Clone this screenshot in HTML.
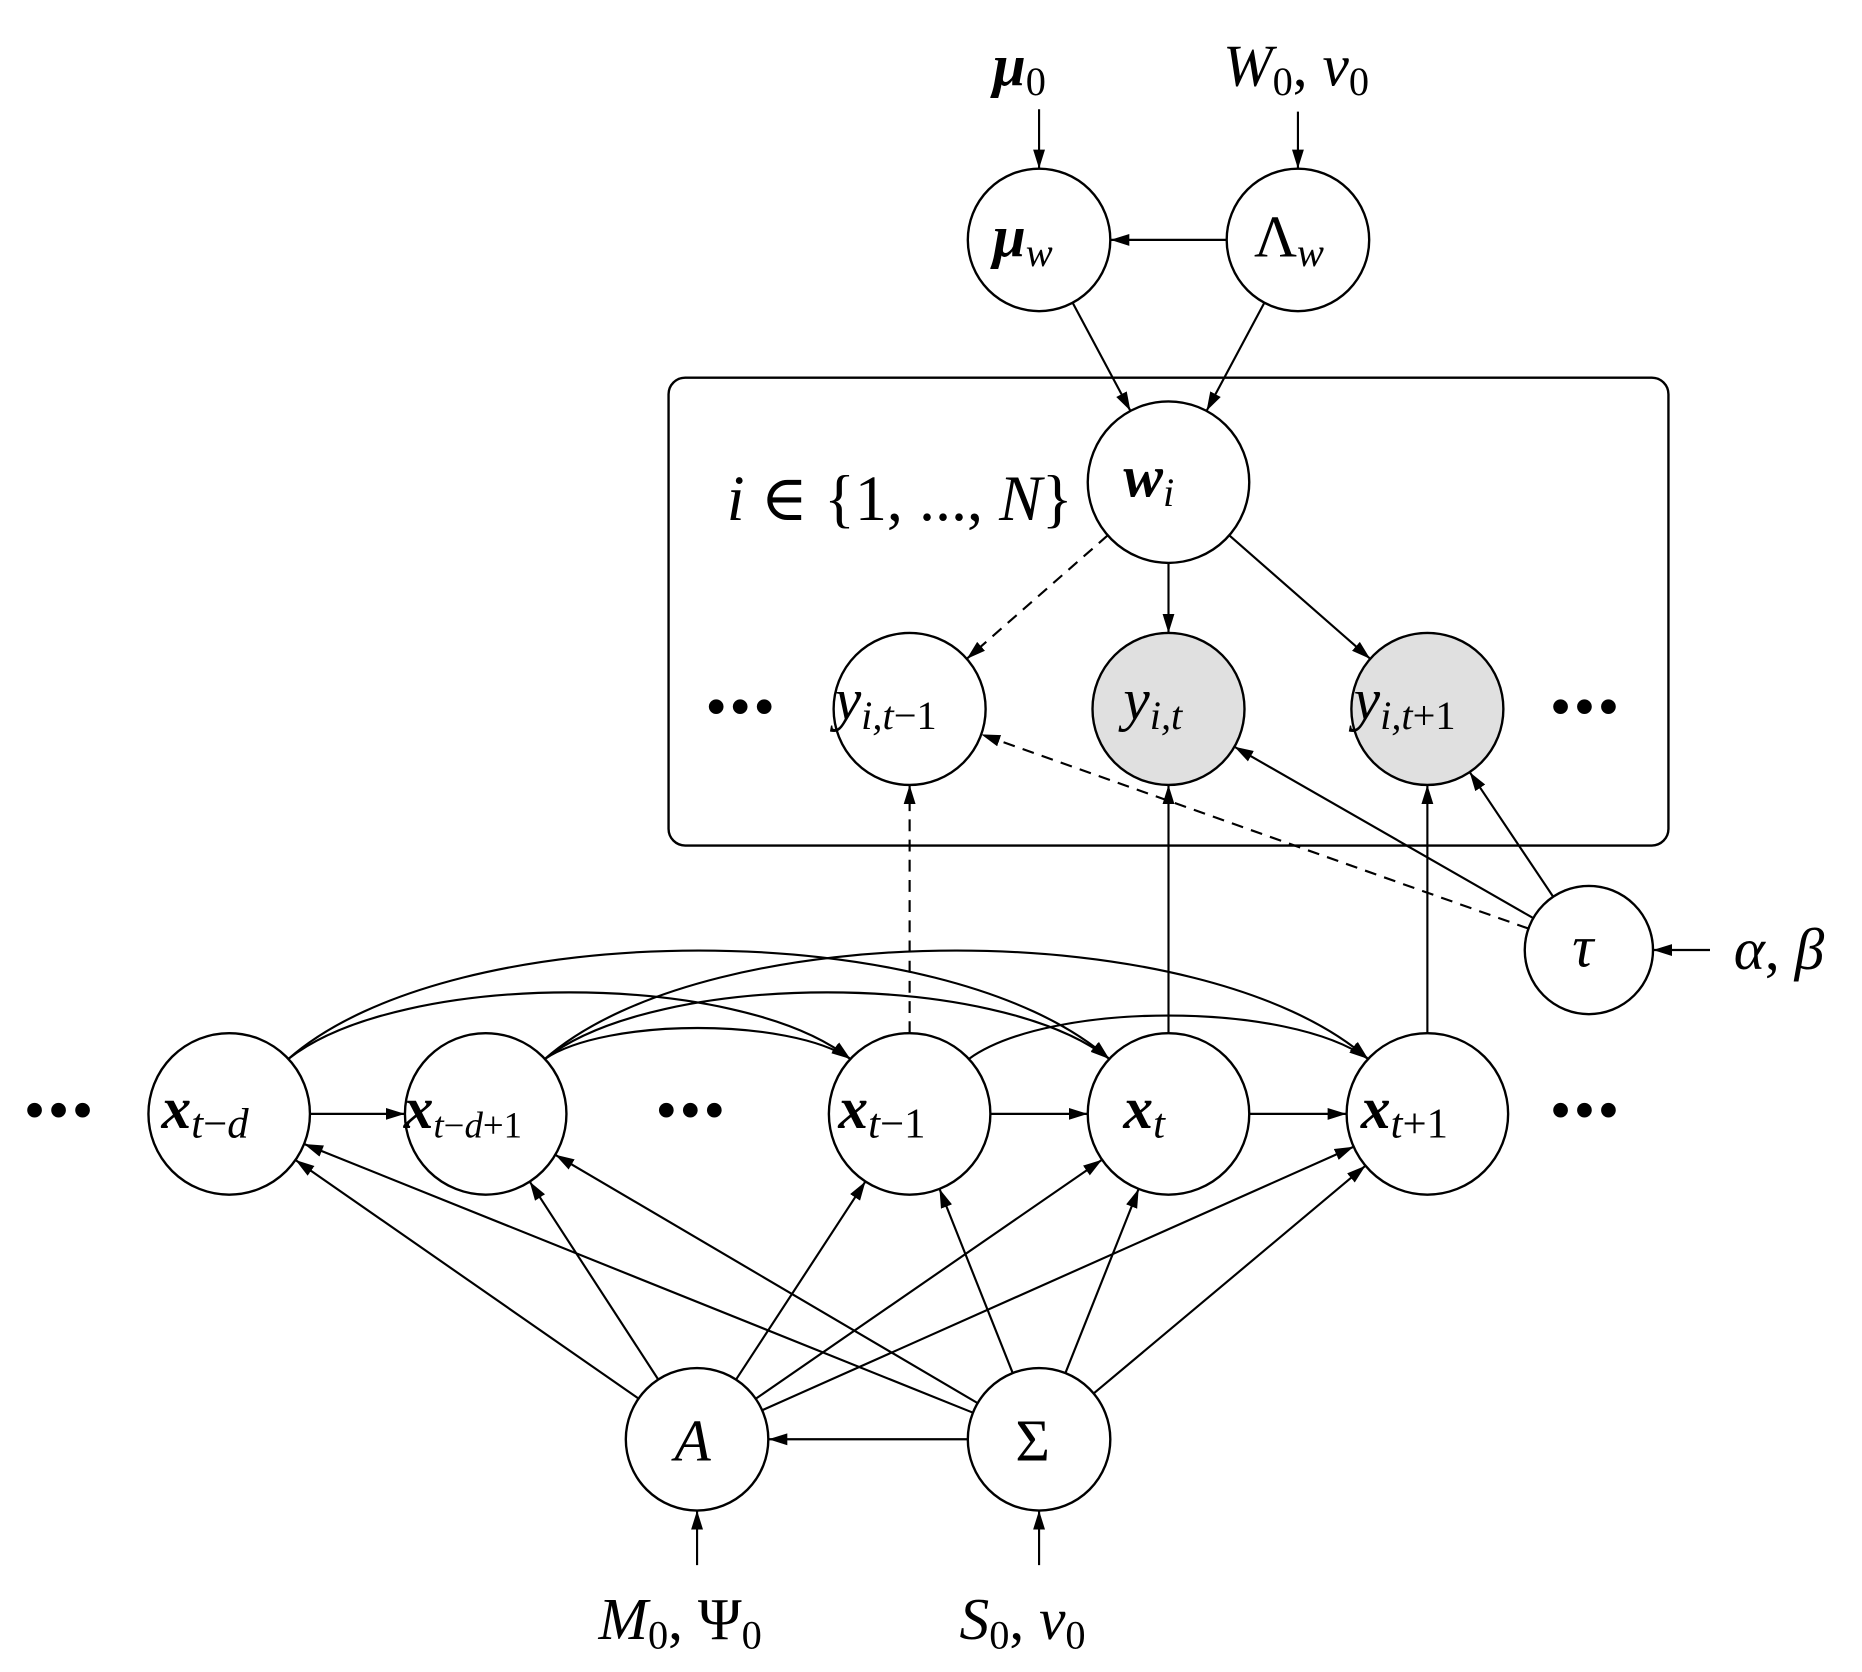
<!DOCTYPE html>
<html><head><meta charset="utf-8"><style>
html,body{margin:0;padding:0;background:#fff;}
svg{display:block;}
text{font-family:"Liberation Serif","DejaVu Serif",serif;font-style:italic;fill:#000;}
.b{font-weight:bold;}
.u{font-style:normal;}
</style></head><body>
<svg id="s" width="1862" height="1672" viewBox="0 0 1568 1408" xmlns="http://www.w3.org/2000/svg">
<defs>
<marker id="ar" viewBox="0 0 16 11" refX="16" refY="5.5" markerWidth="16" markerHeight="11" markerUnits="userSpaceOnUse" orient="auto">
<path d="M0,0.5 L16,5.5 L0,10.5 Z" fill="#000"/></marker>
</defs>
<rect x="563" y="318" width="842" height="394" rx="14" fill="none" stroke="#000" stroke-width="2"/>
<g id="edges" fill="none" stroke="#000" stroke-width="1.8"></g>
<g id="nodes" stroke="#000" stroke-width="2"></g>
<g font-size="50">
<text x="836" y="72"><tspan class="b">μ</tspan><tspan class="u" font-size="34" dy="8">0</tspan></text>
<text x="1030" y="72">W<tspan class="u" font-size="34" dy="8">0</tspan><tspan class="u" dy="-8">, </tspan>ν<tspan class="u" font-size="34" dy="8">0</tspan></text>
<text x="836" y="216"><tspan class="b">μ</tspan><tspan font-size="34" dy="8">w</tspan></text>
<text x="1056" y="216"><tspan class="u">Λ</tspan><tspan font-size="34" dy="8">w</tspan></text>
<text x="946" y="418"><tspan class="b">w</tspan><tspan font-size="34" dy="8">i</tspan></text>
<text x="612" y="438" font-size="54">i <tspan class="u">∈ {1, ..., </tspan>N<tspan class="u">}</tspan></text>
<text x="703" y="606">y<tspan font-size="34" dy="8">i,t</tspan><tspan class="u" font-size="34">−1</tspan></text>
<text x="946" y="606">y<tspan font-size="34" dy="8">i,t</tspan></text>
<text x="1140" y="606">y<tspan font-size="34" dy="8">i,t</tspan><tspan class="u" font-size="34">+1</tspan></text>
<text x="1324" y="814">τ</text>
<text x="1460" y="816">α<tspan class="u">, </tspan>β</text>
<text x="136" y="950"><tspan class="b">x</tspan><tspan font-size="36" dy="8">t</tspan><tspan class="u" font-size="36">−</tspan><tspan font-size="36">d</tspan></text>
<text x="340" y="950"><tspan class="b">x</tspan><tspan font-size="31" dy="8">t</tspan><tspan class="u" font-size="31">−</tspan><tspan font-size="31">d</tspan><tspan class="u" font-size="31">+1</tspan></text>
<text x="706" y="950"><tspan class="b">x</tspan><tspan font-size="36" dy="8">t</tspan><tspan class="u" font-size="36">−1</tspan></text>
<text x="946" y="950"><tspan class="b">x</tspan><tspan font-size="36" dy="8">t</tspan></text>
<text x="1146" y="950"><tspan class="b">x</tspan><tspan font-size="36" dy="8">t</tspan><tspan class="u" font-size="36">+1</tspan></text>
<text x="568" y="1230">A</text>
<text x="855" y="1230" class="u">Σ</text>
<text x="504" y="1380">M<tspan class="u" font-size="34" dy="8">0</tspan><tspan class="u" dy="-8">, Ψ</tspan><tspan class="u" font-size="34" dy="8">0</tspan></text>
<text x="808" y="1380">S<tspan class="u" font-size="34" dy="8">0</tspan><tspan class="u" dy="-8">, </tspan>ν<tspan class="u" font-size="34" dy="8">0</tspan></text>
<text x="20" y="952" class="u" font-size="52" letter-spacing="2">•••</text>
<text x="552" y="952" class="u" font-size="52" letter-spacing="2">•••</text>
<text x="1305" y="952" class="u" font-size="52" letter-spacing="2">•••</text>
<text x="594" y="612" class="u" font-size="52" letter-spacing="2">•••</text>
<text x="1305" y="612" class="u" font-size="52" letter-spacing="2">•••</text>
</g>
<script>
var N={mu0:[875,60,0],W0:[1093,60,0],muw:[875,202,60],Lw:[1093,202,60],wi:[984,406,68],
y1:[766,597,64],y2:[984,597,64],y3:[1202,597,64],tau:[1338,800,54],ab:[1450,800,0],
x0:[193,938,68],x1:[409,938,68],x2:[766,938,68],x3:[984,938,68],x4:[1202,938,68],
A:[587,1212,60],S:[875,1212,60],M0:[587,1322,0],S0:[875,1322,0]};
var E=document.getElementById('edges'),G=document.getElementById('nodes'),ns='http://www.w3.org/2000/svg';
function el(t,a,p){var e=document.createElementNS(ns,t);for(var k in a)e.setAttribute(k,a[k]);p.appendChild(e);return e;}
var fills={y2:'#e0e0e0',y3:'#e0e0e0'};
for(var k in N){if(N[k][2]>0)el('circle',{cx:N[k][0],cy:N[k][1],r:N[k][2],fill:fills[k]||'#fff'},G);}
function line(a,b,d,pa){var A=N[a],B=N[b];var sx=pa?pa[0]:A[0],sy=pa?pa[1]:A[1],tx=B[0],ty=B[1];
var dx=tx-sx,dy=ty-sy,L=Math.hypot(dx,dy);dx/=L;dy/=L;
var ra=pa?0:A[2];
var at={x1:sx+dx*ra,y1:sy+dy*ra,x2:tx-dx*B[2],y2:ty-dy*B[2],'marker-end':'url(#ar)'};
if(d)at['stroke-dasharray']='10,7';el('line',at,E);}
line('mu0','muw',0,[875,92]);line('W0','Lw',0,[1093,94]);line('Lw','muw');
line('muw','wi');line('Lw','wi');line('wi','y1',1);line('wi','y2');line('wi','y3');
line('x2','y1',1);line('x3','y2');line('x4','y3');
line('tau','y1',1);line('tau','y2');line('tau','y3');line('ab','tau',0,[1440,800]);
line('x0','x1');line('x2','x3');line('x3','x4');
['x0','x1','x2','x3','x4'].forEach(function(x){line('A',x);line('S',x);});
line('S','A');line('M0','A',0,[587,1318]);line('S0','S',0,[875,1318]);
function curve(a,b,h){var A=N[a],B=N[b];var ang1=-Math.PI/4.2,ang2=-Math.PI+Math.PI/4.2;
var sx=A[0]+A[2]*Math.cos(ang1),sy=A[1]+A[2]*Math.sin(ang1);
var tx=B[0]+B[2]*Math.cos(ang2),ty=B[1]+B[2]*Math.sin(ang2);
var c1x=sx+(tx-sx)*0.2,c2x=tx-(tx-sx)*0.2;var cy=h;
el('path',{d:'M'+sx+','+sy+' C'+c1x+','+cy+' '+c2x+','+cy+' '+tx+','+ty,'marker-end':'url(#ar)'},E);}
curve('x0','x2',817);curve('x0','x3',770);curve('x1','x2',857);curve('x1','x3',817);curve('x1','x4',770);curve('x2','x4',843);
</script>
</svg>
</body></html>
